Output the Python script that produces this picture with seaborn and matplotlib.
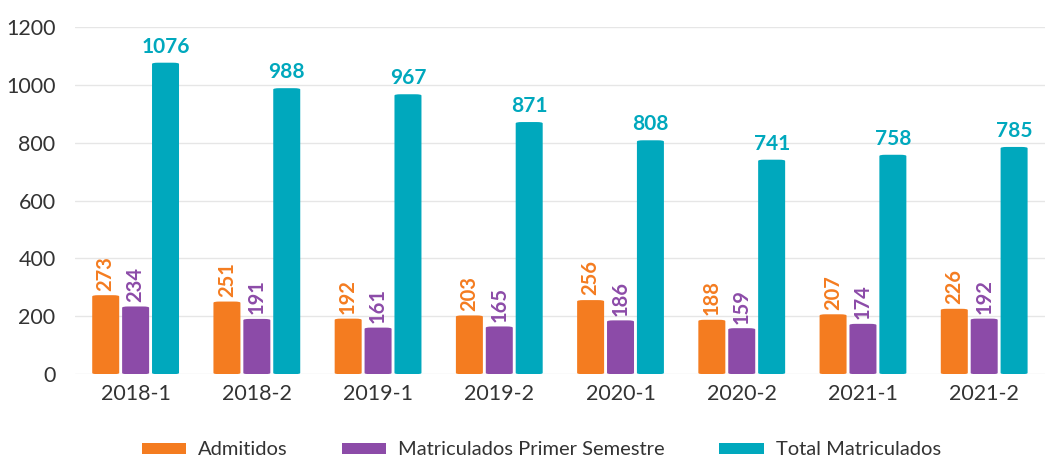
import pandas as pd
import matplotlib.pyplot as plt
import seaborn as sns
from matplotlib.patches import FancyBboxPatch

periodos = ["2018-1", "2018-2", "2019-1", "2019-2", "2020-1", "2020-2", "2021-1", "2021-2"]
admitidos = [273, 251, 192, 203, 256, 188, 207, 226]
primer_semestre = [234, 191, 161, 165, 186, 159, 174, 192]
total_matriculados = [1076, 988, 967, 871, 808, 741, 758, 785]

series = ["Admitidos", "Matriculados Primer Semestre", "Total Matriculados"]
colores = ["#F47C20", "#8C4BA8", "#00A8BD"]

df = pd.DataFrame({"periodo": periodos * 3,
                   "serie": [s for s in series for _ in periodos],
                   "valor": admitidos + primer_semestre + total_matriculados})

sns.set_theme(style="white")
plt.rcParams['font.family'] = ['Lato', 'DejaVu Sans']

fig = plt.figure(figsize=(10.49, 4.62), dpi=100)
ax = fig.add_axes([0.0715, 0.19, 0.9245, 0.752])

sns.barplot(data=df, x="periodo", y="valor", hue="serie", hue_order=series,
            palette=colores, width=0.74, saturation=1, ax=ax, legend=False)

ax.set_ylim(0, 1200)
ax.set_xlim(-0.5, 7.5)
ax.set_yticks(range(0, 1201, 200))
ax.yaxis.grid(True, color="#E6E6E6", linewidth=1)
ax.set_axisbelow(True)
sns.despine(ax=ax, left=True, bottom=True)
ax.set_xlabel("")
ax.set_ylabel("")
ax.tick_params(axis="both", length=0, labelsize=15.5, colors="#333333")
ax.tick_params(axis="y", pad=14)
ax.tick_params(axis="x", pad=7)

# round the bar corners a bit and leave a small gap between bars
for i, bars in enumerate(ax.containers):
    for bar, v in zip(bars, df[df.serie == series[i]]["valor"]):
        x, w, h = bar.get_x(), bar.get_width(), bar.get_height()
        bar.set_visible(False)
        gap = 0.012
        rounded = FancyBboxPatch((x + gap, 0), w - 2 * gap, h,
                                 boxstyle="round,pad=0,rounding_size=0.05",
                                 mutation_aspect=90, facecolor=colores[i],
                                 edgecolor="none", zorder=3)
        ax.add_patch(rounded)
        cx = x + w / 2
        if i < 2:
            ax.text(cx, h + 16, str(v), rotation=90, ha="center", va="bottom",
                    color=colores[i], fontsize=14.5, fontweight="bold")
        else:
            ax.text(cx, h + 20, str(v), ha="center", va="bottom",
                    color=colores[i], fontsize=15, fontweight="bold")

handles = [FancyBboxPatch((0, 0), 1, 1, boxstyle="round,pad=0,rounding_size=0.3",
                          facecolor=c, edgecolor="none") for c in colores]
fig.legend(handles, series, loc="center", bbox_to_anchor=(0.516, 0.026), ncol=3,
           frameon=False, fontsize=14.5, handlelength=2.2, handleheight=0.5,
           columnspacing=2.7, handletextpad=0.6, labelcolor="#333333")

fig.savefig("out.png", dpi=100)
